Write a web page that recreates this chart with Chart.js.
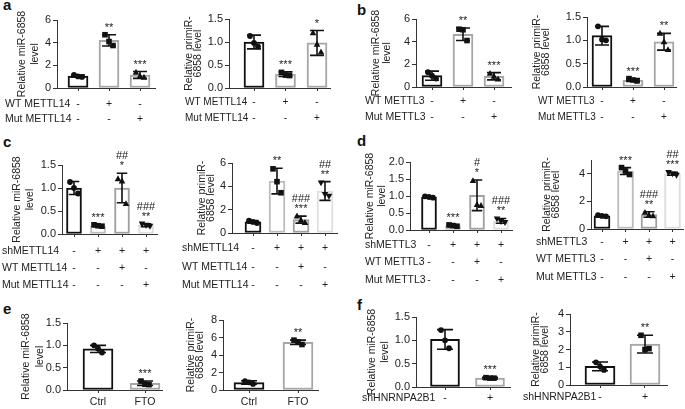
<!DOCTYPE html>
<html>
<head>
<meta charset="utf-8">
<script src="https://cdn.jsdelivr.net/npm/chart.js@4.4.1/dist/chart.umd.min.js"></script>
<style>
body { margin: 0; background: #fff; width: 685px; height: 409px; overflow: hidden; position: relative; font-family: "Liberation Sans", Arial, sans-serif; }
canvas { position: absolute; }
.lt { position: absolute; font-weight: bold; font-size: 15px; line-height: 15px; color: #111; }
</style>
</head>
<body>
<div class="lt" style="left:3px;top:-3px">a</div>
<div class="lt" style="left:357px;top:2px">b</div>
<div class="lt" style="left:3px;top:134px">c</div>
<div class="lt" style="left:357px;top:133px">d</div>
<div class="lt" style="left:3px;top:301px">e</div>
<div class="lt" style="left:357px;top:297px">f</div>
<script>
// ---- data ----
const titleMir = ['Relative miR-6858', 'level'];
const titlePri = ['Relative primiR-', '6858 level'];

const rowsWT14 = ['WT METTL14', 'Mut METTL14'];
const rowsWT3 = ['WT METTL3', 'Mut METTL3'];
const rowsSh14 = ['shMETTL14', 'WT METTL14', 'Mut METTL14'];
const rowsSh3 = ['shMETTL3', 'WT METTL3', 'Mut METTL3'];
const rowsHn = ['shHNRNPA2B1'];
const rowsFto = [''];

const signs3 = [['-', '+', '-'], ['-', '-', '+']];
const signs4 = [['-', '+', '+', '+'], ['-', '-', '+', '-'], ['-', '-', '-', '+']];
const signsHn = [['-', '+']];
const signsFto = [['Ctrl', 'FTO']];

// a
const aMirMean = [1.05, 4.2, 1.15];
const aMirErr = [0.1, 0.5, 0.3];
const aMirPts = [[1.15, 1.02, 0.98], [4.7, 4.1, 3.75], [1.38, 1.05, 0.95]];
const aMirStars = [[], ['**'], ['***']];
const aPriMean = [1.0, 0.3, 0.98];
const aPriErr = [0.15, 0.05, 0.27];
const aPriPts = [[1.13, 0.98, 0.9], [0.34, 0.28, 0.27], [1.2, 0.95, 0.78]];
const aPriStars = [[], ['***'], ['*']];
// b
const bMirMean = [1.0, 4.65, 0.95];
const bMirErr = [0.4, 0.55, 0.32];
const bMirPts = [[1.3, 1.0, 0.75], [5.1, 5.05, 4.1], [1.2, 0.95, 0.7]];
const bMirStars = [[], ['**'], ['***']];
const bPriMean = [1.1, 0.15, 0.97];
const bPriErr = [0.2, 0.03, 0.18];
const bPriPts = [[1.3, 1.02, 1.0], [0.18, 0.15, 0.13], [1.15, 0.97, 0.8]];
const bPriStars = [[], ['***'], ['**']];
// c
const cMirMean = [1.0, 0.18, 1.0, 0.19];
const cMirErr = [0.14, 0.02, 0.32, 0.03];
const cMirPts = [[1.13, 1.0, 0.88], [0.2, 0.18, 0.17], [1.2, 1.15, 0.66], [0.22, 0.19, 0.17]];
const cMirStars = [[], ['***'], ['##', '*'], ['###', '**']];
const cPriMean = [0.95, 4.45, 1.15, 3.6];
const cPriErr = [0.12, 1.1, 0.3, 0.8];
const cPriPts = [[1.05, 0.95, 0.85], [5.5, 4.4, 3.45], [1.45, 1.1, 0.9], [4.3, 3.3, 3.15]];
const cPriStars = [[], ['**'], ['###', '***'], ['##', '**']];
// d
const dMirMean = [0.97, 0.13, 1.02, 0.27];
const dMirErr = [0.03, 0.03, 0.45, 0.07];
const dMirPts = [[0.99, 0.97, 0.95], [0.15, 0.13, 0.11], [1.45, 0.75, 0.72], [0.33, 0.25, 0.22]];
const dMirStars = [[], ['***'], ['#', '*'], ['###', '**']];
const dPriMean = [0.95, 4.2, 1.05, 4.0];
const dPriErr = [0.05, 0.25, 0.2, 0.1];
const dPriPts = [[1.0, 0.95, 0.92], [4.45, 4.2, 3.95], [1.2, 1.0, 0.95], [4.1, 4.0, 3.9]];
const dPriStars = [[], ['***'], ['###', '**'], ['##', '***']];
// e
const eMirMean = [0.92, 0.15];
const eMirErr = [0.08, 0.05];
const eMirPts = [[1.0, 0.93, 0.84], [0.2, 0.13, 0.12]];
const eMirStars = [[], ['***']];
const ePriMean = [0.85, 5.45];
const ePriErr = [0.2, 0.25];
const ePriPts = [[1.0, 0.88, 0.7], [5.7, 5.5, 5.2]];
const ePriStars = [[], ['**']];
// f
const fMirMean = [1.02, 0.19];
const fMirErr = [0.21, 0.02];
const fMirPts = [[1.22, 1.0, 0.83], [0.2, 0.19, 0.19]];
const fMirStars = [[], ['***']];
const fPriMean = [1.05, 2.3];
const fPriErr = [0.25, 0.5];
const fPriPts = [[1.28, 1.05, 0.85], [2.8, 2.0, 2.05]];
const fPriStars = [[], ['**']];

// ---- styles / layout ----
const col3 = ['#111', '#a6a6a6', '#a6a6a6'];
const col4 = ['#111', '#bdbdbd', '#a0a0a0', '#dedede'];
const col2 = ['#111', '#a6a6a6'];
const FONT = '"Liberation Sans", Arial, sans-serif';
const TXT = '#222';
const AX = '#333';

Chart.defaults.font.family = FONT;

const panels = [
  { mean: aMirMean, err: aMirErr, pts: aMirPts, stars: aMirStars, title: titleMir, rows: rowsWT14, signs: signs3, col: col3, ymax: 6, step: 2, dec: 0,
    tx: 22, tlh: 13, L: 57, R: 155, T: 20, B: 88, c0: 78, s: 31, bw: 20, lx: 5, tf: 10.5, rowY: [104, 119] },
  { mean: aPriMean, err: aPriErr, pts: aPriPts, stars: aPriStars, title: titlePri, rows: rowsWT14, signs: signs3, col: col3, ymax: 1.5, step: 0.5, dec: 1,
    tx: 189, tlh: 9.5, L: 229, R: 330, T: 19, B: 88, c0: 254, s: 31.5, bw: 20, lx: 185, tf: 10, rowY: [102, 118] },
  { mean: bMirMean, err: bMirErr, pts: bMirPts, stars: bMirStars, title: titleMir, rows: rowsWT3, signs: signs3, col: col3, ymax: 6, step: 2, dec: 0,
    tx: 376, tlh: 11.5, L: 416, R: 511, T: 19, B: 87, c0: 432, s: 31, bw: 20, lx: 365, tf: 10.5, rowY: [101, 117] },
  { mean: bPriMean, err: bPriErr, pts: bPriPts, stars: bPriStars, title: titlePri, rows: rowsWT3, signs: signs3, col: col3, ymax: 1.5, step: 0.5, dec: 1,
    tx: 537, tlh: 9.5, L: 587, R: 676, T: 17, B: 87, c0: 602, s: 31, bw: 20, lx: 538, tf: 10, rowY: [101, 117] },
  { mean: cMirMean, err: cMirErr, pts: cMirPts, stars: cMirStars, title: titleMir, rows: rowsSh14, signs: signs4, col: col4, ymax: 1.5, step: 0.5, dec: 1,
    tx: 17.5, tlh: 12.5, L: 62, R: 157, T: 165, B: 234, c0: 74, s: 24, bw: 15, lx: 2, tf: 10.5, rowY: [251, 268, 285] },
  { mean: cPriMean, err: cPriErr, pts: cPriPts, stars: cPriStars, title: titlePri, rows: rowsSh14, signs: signs4, col: col4, ymax: 6, step: 2, dec: 0,
    tx: 202, tlh: 9, L: 232, R: 337, T: 163, B: 233, c0: 253, s: 24, bw: 16, lx: 182, tf: 10.5, rowY: [248, 267, 285] },
  { mean: dMirMean, err: dMirErr, pts: dMirPts, stars: dMirStars, title: titleMir, rows: rowsSh3, signs: signs4, col: col4, ymax: 2, step: 0.5, dec: 1,
    tx: 370, tlh: 12.5, L: 410, R: 512, T: 162, B: 230, c0: 429, s: 24, bw: 15, lx: 365, tf: 10.5, rowY: [245, 262, 280] },
  { mean: dPriMean, err: dPriErr, pts: dPriPts, stars: dPriStars, title: titlePri, rows: rowsSh3, signs: signs4, col: col4, ymax: 5, step: 1, dec: 0,
    tx: 547, tlh: 9.5, L: 591, R: 683, T: 160, B: 229, c0: 602, s: 23.5, bw: 16, lx: 536, tf: 10.5, rowY: [242, 259, 277] },
  { mean: eMirMean, err: eMirErr, pts: eMirPts, stars: eMirStars, title: titleMir, rows: rowsFto, signs: signsFto, col: col2, ymax: 1.5, step: 0.5, dec: 1,
    tx: 26, tlh: 14, L: 67, R: 162, T: 323, B: 390, c0: 98, s: 47, bw: 30, lx: null, tf: 10.5, rowY: [402] },
  { mean: ePriMean, err: ePriErr, pts: ePriPts, stars: ePriStars, title: titlePri, rows: rowsFto, signs: signsFto, col: col2, ymax: 8, step: 2, dec: 0,
    tx: 191, tlh: 9, L: 223, R: 318, T: 320, B: 390, c0: 249, s: 49, bw: 30, lx: null, tf: 10.5, rowY: [402] },
  { mean: fMirMean, err: fMirErr, pts: fMirPts, stars: fMirStars, title: titleMir, rows: rowsHn, signs: signsHn, col: col2, ymax: 1.5, step: 0.5, dec: 1,
    tx: 372, tlh: 13, L: 416, R: 510, T: 317, B: 387, c0: 445, s: 45, bw: 29, lx: 362, tf: 10.5, rowY: [398] },
  { mean: fPriMean, err: fPriErr, pts: fPriPts, stars: fPriStars, title: titlePri, rows: rowsHn, signs: signsHn, col: col2, ymax: 4, step: 1, dec: 0,
    tx: 536, tlh: 9.5, L: 570, R: 667, T: 314, B: 385, c0: 600, s: 45, bw: 30, lx: 523, tf: 10.5, rowY: [397] }
];

const JIT = [-4, 0, 4];

function marker(ctx, x, y, kind) {
  ctx.beginPath();
  if (kind === 0) {
    ctx.arc(x, y, 2.9, 0, Math.PI * 2);
  } else if (kind === 1) {
    ctx.rect(x - 2.8, y - 2.8, 5.6, 5.6);
  } else if (kind === 2) {
    ctx.moveTo(x, y - 3.5); ctx.lineTo(x + 3.3, y + 2.4); ctx.lineTo(x - 3.3, y + 2.4); ctx.closePath();
  } else {
    ctx.moveTo(x, y + 3.5); ctx.lineTo(x + 3.3, y - 2.4); ctx.lineTo(x - 3.3, y - 2.4); ctx.closePath();
  }
  ctx.fill();
}

function deco(p) {
  return {
    id: 'deco',
    afterDatasetsDraw(chart) {
      const ctx = chart.ctx, xs = chart.scales.x, ys = chart.scales.y;
      ctx.save();
      p.mean.forEach((m, i) => {
        const x = xs.getPixelForValue(i);
        const yt = ys.getPixelForValue(m + p.err[i]);
        const yb = ys.getPixelForValue(Math.max(0, m - p.err[i]));
        const hw = Math.min(p.bw * 0.7, 16) / 2;
        ctx.strokeStyle = '#111';
        ctx.lineWidth = 1.6;
        ctx.beginPath();
        ctx.moveTo(x, yt); ctx.lineTo(x, yb);
        ctx.moveTo(x - hw, yt); ctx.lineTo(x + hw, yt);
        ctx.moveTo(x - hw, yb); ctx.lineTo(x + hw, yb);
        ctx.stroke();
        ctx.fillStyle = '#111';
        p.pts[i].forEach((v, k) => marker(ctx, x + JIT[k], ys.getPixelForValue(v), i));
        ctx.fillStyle = TXT;
        ctx.font = '11px ' + FONT;
        ctx.textAlign = 'center';
        ctx.textBaseline = 'alphabetic';
        const st = p.stars[i];
        st.forEach((s, k) => ctx.fillText(s, x, yt - 4 - (st.length - 1 - k) * 10));
      });
      ctx.restore();
    },
    afterDraw(chart) {
      const ctx = chart.ctx, xs = chart.scales.x;
      ctx.save();
      ctx.fillStyle = TXT;
      // y title
      ctx.font = '10.5px ' + FONT;
      ctx.translate(p.tx - p.cx, (p.T + p.B) / 2 - p.cy);
      ctx.rotate(-Math.PI / 2);
      ctx.textAlign = 'center';
      ctx.textBaseline = 'middle';
      p.title.forEach((t, k) => ctx.fillText(t, 0, k * p.tlh));
      ctx.setTransform(1, 0, 0, 1, 0, 0);
      // table below the axis
      ctx.font = p.tf + 'px ' + FONT;
      p.rows.forEach((r, k) => {
        const y = p.rowY[k] - p.cy;
        if (p.lx !== null) {
          ctx.textAlign = 'left';
          ctx.fillText(r, p.lx - p.cx, y);
        }
        ctx.textAlign = 'center';
        p.signs[k].forEach((s, i) => ctx.fillText(s, xs.getPixelForValue(i), y));
      });
      ctx.restore();
    }
  };
}

panels.forEach(p => {
  p.cx = Math.floor(Math.min(p.lx === null ? Infinity : p.lx, p.tx - p.tlh) - 4);
  p.cy = Math.floor(p.T - 30);
  const cw = Math.ceil(p.R + 4 - p.cx);
  const ch = Math.ceil(Math.max(...p.rowY) + 9 - p.cy);
  const cv = document.createElement('canvas');
  cv.width = cw; cv.height = ch;
  cv.style.left = p.cx + 'px'; cv.style.top = p.cy + 'px';
  cv.style.width = cw + 'px'; cv.style.height = ch + 'px';
  document.body.appendChild(cv);
  new Chart(cv, {
    type: 'bar',
    data: {
      datasets: [{
        data: p.mean.map((v, i) => ({ x: i, y: v })),
        backgroundColor: '#fff',
        borderColor: p.col,
        borderWidth: 2,
        borderSkipped: false,
        barThickness: p.bw
      }]
    },
    options: {
      responsive: false,
      animation: false,
      events: [],
      layout: { padding: { left: 0, top: p.T - p.cy, right: p.cx + cw - p.R, bottom: p.cy + ch - p.B } },
      plugins: { legend: { display: false }, tooltip: { enabled: false } },
      scales: {
        x: {
          type: 'linear',
          offset: false,
          min: -(p.c0 - p.L) / p.s,
          max: (p.R - p.c0) / p.s,
          grid: { offset: false, drawOnChartArea: false, drawTicks: true, tickLength: 3, color: AX },
          border: { color: AX, width: 1 },
          ticks: { display: false },
          afterBuildTicks: s => { s.ticks = p.mean.map((_, i) => ({ value: i })); },
          afterFit: s => { s.height = 0; }
        },
        y: {
          min: 0,
          max: p.ymax,
          ticks: { stepSize: p.step, callback: v => Number(v).toFixed(p.dec), color: TXT, font: { size: 11 }, padding: 2 },
          grid: { drawOnChartArea: false, tickLength: 4, color: AX },
          border: { color: AX, width: 1 },
          afterFit: s => { s.width = p.L - p.cx; }
        }
      }
    },
    plugins: [deco(p)]
  });
});
</script>
</body>
</html>
